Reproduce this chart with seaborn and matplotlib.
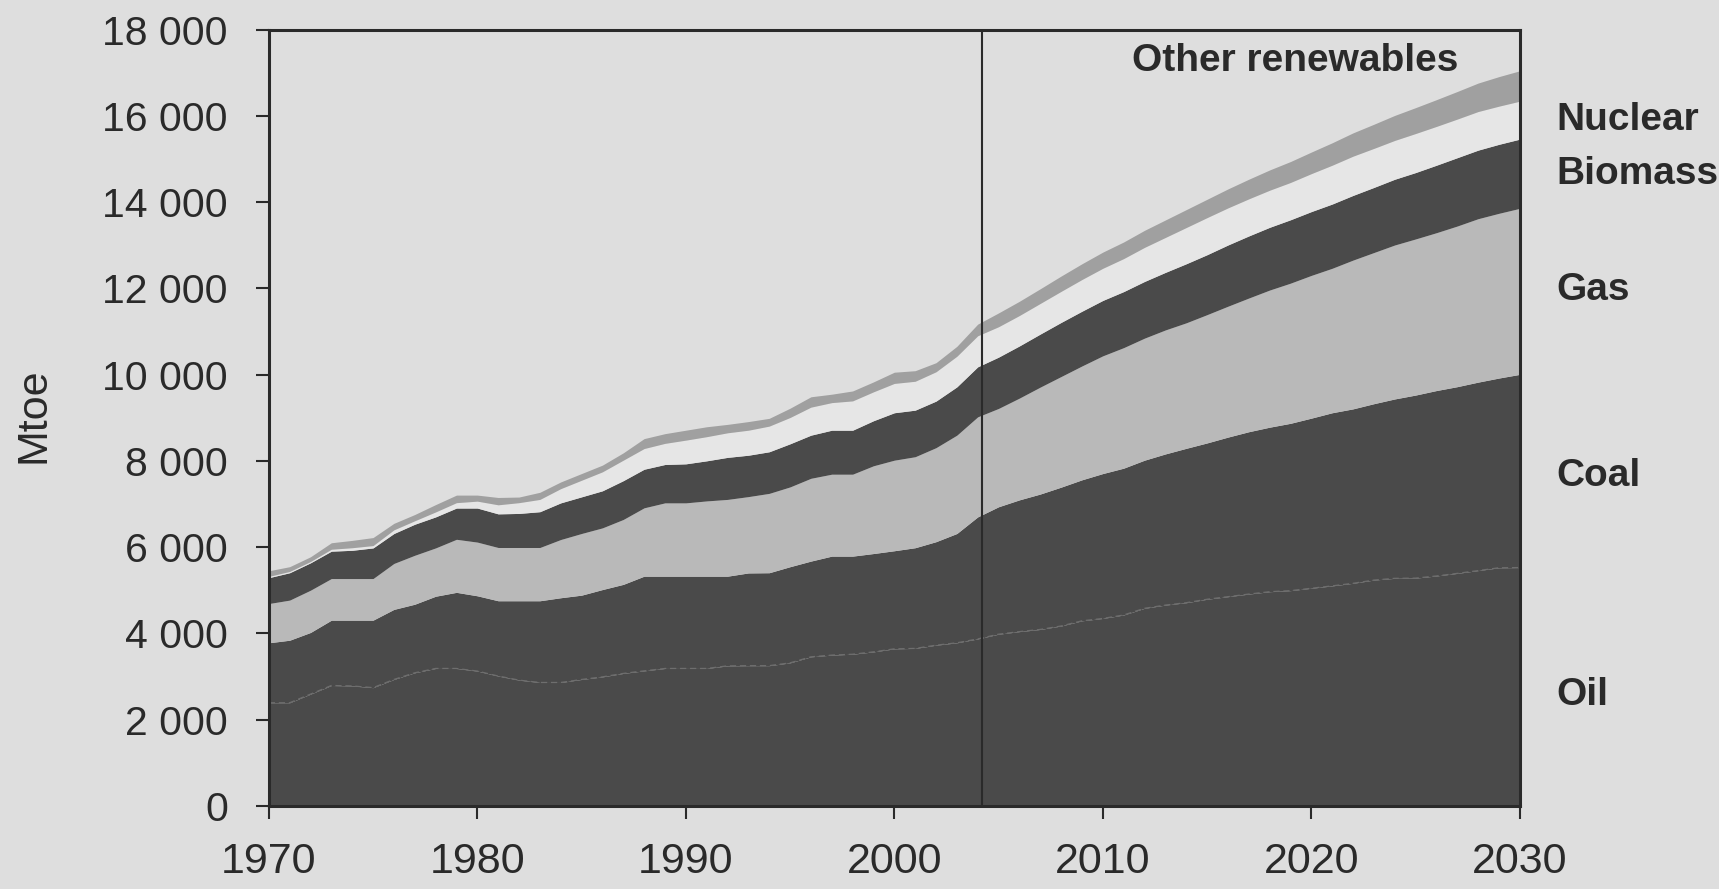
import matplotlib
matplotlib.use("Agg")
import matplotlib.pyplot as plt
from matplotlib import font_manager
from matplotlib.ticker import FixedLocator
import pandas as pd
import seaborn as sns

# World primary energy demand by fuel, Mtoe (history to 2004, projection after)
years = list(range(1970, 2031))
oil = [2390, 2390, 2590, 2790, 2780, 2740, 2930, 3085, 3185, 3185,
       3125, 3010, 2915, 2860, 2860, 2930, 2990, 3070, 3130, 3185,
       3185, 3185, 3245, 3250, 3250, 3315, 3455, 3495, 3515, 3570,
       3640, 3650, 3725, 3780, 3870,
       3980, 4040, 4090, 4170, 4290, 4345, 4425, 4580, 4655, 4710,
       4790, 4850, 4910, 4965, 4990, 5045, 5100, 5160, 5235, 5275,
       5280, 5330, 5390, 5455, 5520, 5525]
coal = [1390, 1450, 1430, 1515, 1525, 1565, 1625, 1590, 1675, 1765,
        1745, 1745, 1840, 1895, 1965, 1955, 2025, 2065, 2195, 2140,
        2140, 2140, 2080, 2150, 2155, 2230, 2220, 2295, 2275, 2280,
        2275, 2335, 2400, 2535, 2830,
        2955, 3055, 3140, 3220, 3270, 3360, 3405, 3435, 3505, 3580,
        3625, 3700, 3765, 3815, 3880, 3945, 4015, 4045, 4090, 4160,
        4245, 4300, 4330, 4370, 4400, 4480]
gas = [910, 930, 980, 965, 965, 965, 1065, 1135, 1120, 1230,
       1245, 1235, 1235, 1235, 1350, 1430, 1430, 1505, 1585, 1700,
       1700, 1745, 1780, 1770, 1840, 1850, 1920, 1900, 1900, 2035,
       2100, 2110, 2180, 2280, 2320,
       2280, 2360, 2480, 2565, 2640, 2730, 2795, 2830, 2875, 2910,
       2975, 3035, 3100, 3180, 3250, 3310, 3350, 3450, 3505, 3570,
       3620, 3660, 3725, 3790, 3820, 3850]
biomass = [600, 635, 635, 635, 655, 710, 695, 720, 720, 725,
           790, 780, 790, 830, 850, 850, 860, 900, 895, 890,
           905, 930, 975, 960, 965, 1000, 1000, 1020, 1020, 1045,
           1100, 1080, 1080, 1120, 1160,
           1190, 1210, 1230, 1255, 1270, 1285, 1300, 1315, 1335, 1370,
           1390, 1420, 1440, 1455, 1470, 1480, 1490, 1500, 1510, 1525,
           1540, 1565, 1585, 1590, 1600, 1605]
nuclear = [30, 30, 30, 45, 60, 55, 85, 80, 115, 125,
           160, 210, 250, 285, 330, 385, 440, 475, 480, 490,
           550, 560, 570, 580, 595, 610, 650, 640, 680, 670,
           680, 670, 680, 710, 720,
           705, 705, 710, 720, 735, 745, 765, 790, 810, 840,
           860, 860, 860, 860, 865, 880, 900, 910, 905, 900,
           905, 900, 895, 895, 885, 880]
other_renewables = [130, 110, 110, 150, 170, 185, 150, 145, 170, 175,
                    140, 170, 130, 165, 155, 155, 155, 170, 230, 225,
                    230, 230, 195, 200, 180, 215, 240, 195, 230, 230,
                    260, 245, 210, 230, 270,
                    320, 330, 340, 355, 365, 375, 385, 395, 405, 415,
                    425, 440, 455, 470, 485, 500, 520, 540, 560, 580,
                    600, 620, 640, 660, 685, 705]

fuels = ["Oil", "Coal", "Gas", "Biomass", "Nuclear", "Other renewables"]
y_ticks = [0, 2000, 4000, 6000, 8000, 10000, 12000, 14000, 16000, 18000]
y_tick_labels = ["0", "2 000", "4 000", "6 000", "8 000", "10 000",
                 "12 000", "14 000", "16 000", "18 000"]
x_ticks = [1970, 1980, 1990, 2000, 2010, 2020, 2030]
base_year = 2004.2

df = pd.DataFrame({"year": years, "Oil": oil, "Coal": coal, "Gas": gas,
                   "Biomass": biomass, "Nuclear": nuclear,
                   "Other renewables": other_renewables})

BG = "#dedede"
DARK = "#4a4a4a"
INK = "#2a2a2a"
colors = [DARK, DARK, "#b9b9b9", DARK, "#e6e6e6", "#a0a0a0"]

sns.set_theme(style="ticks", rc={"axes.facecolor": BG, "figure.facecolor": BG,
                                 "savefig.facecolor": BG})
plt.rcParams["font.family"] = ["Liberation Sans", "DejaVu Sans"]


def pick_font(names):
    for n in names:
        try:
            font_manager.findfont(font_manager.FontProperties(family=n),
                                  fallback_to_default=False)
            return n
        except ValueError:
            pass
    return "DejaVu Sans"


label_font = pick_font(["Liberation Sans Narrow", "Liberation Sans"])
label_size = 31 if label_font == "Liberation Sans Narrow" else 28

fig = plt.figure(figsize=(17.19, 8.89), dpi=100)
ax = fig.add_axes([0.15637, 0.09359, 0.72775, 0.87311])

ax.stackplot(df["year"], *[df[f] for f in fuels], colors=colors, linewidth=0)
sns.lineplot(data=df, x="year", y="Oil", ax=ax, color="#6e6e6e",
             linewidth=0.9, linestyle=(0, (5, 3)))
ax.axvline(base_year, color=INK, linewidth=1.5)

ax.set_xlim(1970, 2030)
ax.set_ylim(0, 18000)
ax.xaxis.set_major_locator(FixedLocator(x_ticks))
ax.set_xticklabels([str(x) for x in x_ticks])
ax.yaxis.set_major_locator(FixedLocator(y_ticks))
ax.set_yticklabels(y_tick_labels)
ax.set_xlabel("")
ax.set_ylabel("")

for s in ax.spines.values():
    s.set_visible(True)
    s.set_linewidth(2.2)
    s.set_color(INK)

ax.tick_params(axis="both", direction="out", length=9.4, width=1.5,
               color=INK, labelcolor=INK)
ax.tick_params(axis="y", labelsize=29.5, pad=20)
ax.tick_params(axis="x", labelsize=31, pad=17)

fig.text(33.3 / 1719, 1 - 415 / 889, "Mtoe", rotation=90, ha="center",
         va="center", fontsize=31, color=INK)

# series labels
lab = dict(fontfamily=label_font, fontweight="bold", fontsize=label_size,
           color=INK, va="baseline", clip_on=False)
ax.text(2011.42, 17030, "Other renewables", ha="left", **lab)
ax.text(2031.74, 15666, "Nuclear", ha="left", **lab)
ax.text(2031.74, 14426, "Biomass", ha="left", **lab)
ax.text(2031.74, 11718, "Gas", ha="left", **lab)
ax.text(2031.74, 7421, "Coal", ha="left", **lab)
ax.text(2031.74, 2334, "Oil", ha="left", **lab)

fig.savefig("out.png", dpi=100, facecolor=BG)
